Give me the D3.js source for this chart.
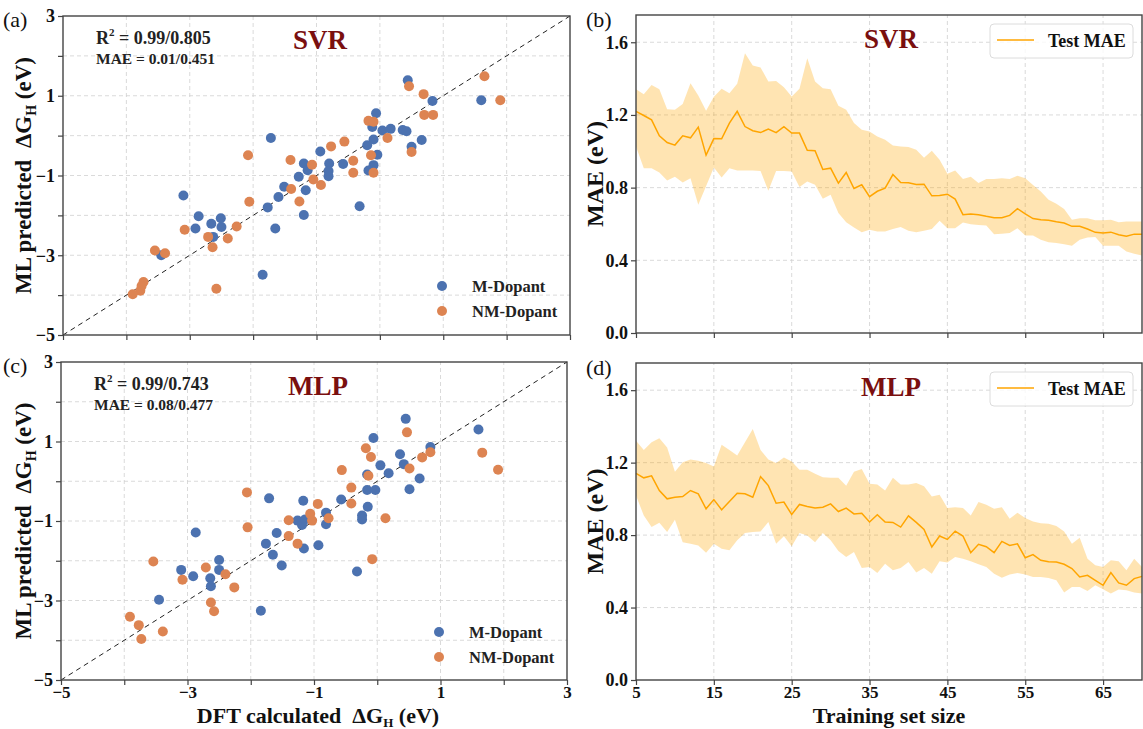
<!DOCTYPE html>
<html>
<head>
<meta charset="utf-8">
<script src="https://cdn.jsdelivr.net/npm/d3@7"></script>
<style>
  body { margin: 0; background: #fff; }
  svg { font-family: "Liberation Serif", "DejaVu Serif", serif; }
  text { white-space: pre; }
</style>
</head>
<body>
<svg id="chart" width="1143" height="729"></svg>
<script>
// parity data, [DFT, predicted]
const svrMetal = [
  [0.44, 1.39], [0.83, 0.87], [1.6, 0.885], [-0.06, 0.56], [-0.12, 0.215], [-0.1, -0.095],
  [-0.2, -0.24], [0.04, 0.13], [0.17, 0.17], [0.36, 0.14], [0.42, 0.11], [0.5, -0.28],
  [0.66, -0.11], [-0.04, -0.48], [-0.1, -0.74], [-0.18, -0.875], [-1.72, -0.06], [-0.94, -0.4],
  [-1.2, -0.7], [-1.14, -0.87], [-1.28, -1.03], [-0.8, -0.7], [-0.81, -0.89], [-0.81, -1.02],
  [-0.58, -0.71], [-1.51, -1.28], [-1.17, -1.37], [-1.6, -1.54], [-1.77, -1.8], [-1.2, -1.99],
  [-1.65, -2.33], [-0.32, -1.77], [-1.85, -3.49], [-3.1, -1.5], [-2.86, -2.02], [-2.91, -2.33],
  [-2.66, -2.21], [-2.51, -2.07], [-2.5, -2.29], [-2.63, -2.54], [-3.45, -3.0]
];
const svrNonMetal = [
  [1.65, 1.49], [1.9, 0.885], [0.46, 1.24], [0.69, 1.04], [0.7, 0.52], [0.84, 0.52],
  [-0.18, 0.37], [-0.1, 0.35], [0.12, -0.06], [-0.56, -0.15], [-0.77, -0.27], [-0.14, -0.49],
  [0.5, -0.41], [-0.42, -0.63], [-0.42, -0.93], [-0.1, -0.93], [-1.41, -0.61], [-1.07, -0.73],
  [-1.05, -1.1], [-0.93, -1.24], [-1.4, -1.34], [-1.27, -1.65], [-2.08, -0.49], [-2.06, -1.66],
  [-2.26, -2.28], [-2.4, -2.58], [-2.71, -2.54], [-2.64, -2.8], [-3.08, -2.36], [-3.55, -2.88],
  [-3.39, -2.95], [-3.73, -3.67], [-3.78, -3.89], [-3.9, -3.98], [-3.76, -3.77], [-2.58, -3.84]
];
const mlpMetal = [
  [0.45, 1.57], [1.6, 1.3], [-0.06, 1.09], [0.84, 0.86], [0.36, 0.68], [0.42, 0.43],
  [0.05, 0.4], [0.18, 0.2], [-0.16, 0.17], [0.67, 0.07], [-0.16, -0.22], [-0.03, -0.22],
  [0.51, -0.2], [-0.57, -0.46], [-0.15, -0.64], [-0.24, -0.86], [-0.24, -0.96], [-1.71, -0.43],
  [-1.17, -0.49], [-0.81, -0.79], [-0.81, -1.08], [-1.26, -0.99], [-1.19, -1.1], [-1.59, -1.3],
  [-1.76, -1.57], [-1.65, -1.85], [-1.51, -2.12], [-1.16, -1.69], [-0.93, -1.61], [-0.32, -2.27],
  [-1.84, -3.26], [-2.87, -1.29], [-3.1, -2.23], [-2.91, -2.39], [-2.5, -1.98], [-2.5, -2.23],
  [-2.64, -2.44], [-2.63, -2.64], [-3.45, -2.98], [-1.14, -0.96]
];
const mlpNonMetal = [
  [0.47, 1.23], [1.66, 0.72], [1.91, 0.29], [-0.18, 0.83], [-0.1, 0.61], [0.71, 0.6],
  [0.84, 0.73], [0.51, 0.32], [-0.14, 0.14], [-0.56, 0.28], [-0.41, -0.16], [-0.41, -0.56],
  [0.13, -0.93], [-0.08, -1.96], [-2.06, -0.28], [-2.05, -1.16], [-1.4, -0.98], [-1.4, -1.38],
  [-1.26, -1.57], [-1.06, -0.82], [-1.03, -0.99], [-0.94, -0.57], [-0.77, -0.93], [-2.71, -2.17],
  [-2.4, -2.34], [-2.26, -2.67], [-3.08, -2.48], [-3.54, -2.02], [-2.63, -3.05], [-2.58, -3.27],
  [-3.39, -3.78], [-3.91, -3.41], [-3.77, -3.62], [-3.73, -3.97]
];

// learning curves, training set size 5..70
const trainSizes = d3.range(5, 71);
const svrMean = [1.22, 1.197, 1.173, 1.085, 1.048, 1.034, 1.085, 1.074, 1.133, 0.979,
  1.07, 1.069, 1.155, 1.22, 1.136, 1.113, 1.103, 1.122, 1.103, 1.135,
  1.1, 1.1, 1.006, 1.003, 0.9, 0.907, 0.825, 0.883, 0.795, 0.816,
  0.75, 0.78, 0.797, 0.872, 0.828, 0.827, 0.817, 0.819, 0.755, 0.757,
  0.764, 0.737, 0.651, 0.655, 0.651, 0.642, 0.634, 0.634, 0.647, 0.684,
  0.656, 0.63, 0.623, 0.62, 0.612, 0.605, 0.587, 0.587, 0.572, 0.554,
  0.55, 0.555, 0.541, 0.532, 0.544, 0.543];
const svrUpper = [1.342, 1.314, 1.365, 1.342, 1.232, 1.229, 1.26, 1.374, 1.307, 1.223,
  1.3, 1.344, 1.32, 1.371, 1.54, 1.472, 1.461, 1.384, 1.387, 1.353,
  1.301, 1.344, 1.512, 1.384, 1.347, 1.342, 1.25, 1.229, 1.155, 1.118,
  1.109, 1.081, 1.063, 1.032, 1.026, 1.023, 1.008, 0.964, 1.003, 0.953,
  0.876, 0.894, 0.848, 0.86, 0.825, 0.847, 0.848, 0.852, 0.847, 0.865,
  0.852, 0.815, 0.779, 0.733, 0.711, 0.682, 0.623, 0.632, 0.632, 0.62,
  0.62, 0.623, 0.61, 0.614, 0.614, 0.614];
const svrLower = [1.026, 0.907, 0.907, 0.883, 0.839, 0.86, 0.828, 0.852, 0.706, 0.807,
  0.911, 0.856, 0.907, 0.894, 0.894, 0.894, 0.891, 0.783, 0.892, 0.892,
  0.889, 0.803, 0.834, 0.816, 0.739, 0.761, 0.66, 0.61, 0.581, 0.555,
  0.568, 0.559, 0.559, 0.572, 0.583, 0.563, 0.555, 0.563, 0.572, 0.618,
  0.577, 0.577, 0.608, 0.599, 0.594, 0.592, 0.544, 0.546, 0.55, 0.577,
  0.537, 0.537, 0.513, 0.5, 0.495, 0.489, 0.48, 0.513, 0.526, 0.528,
  0.48, 0.48, 0.48, 0.449, 0.436, 0.427];
const mlpMean = [1.141, 1.116, 1.127, 1.046, 1.0, 1.009, 1.013, 1.046, 1.028, 0.945,
  0.996, 0.94, 0.985, 1.031, 1.028, 1.009, 1.123, 1.073, 0.976, 0.982,
  0.914, 0.969, 0.958, 0.95, 0.954, 0.972, 0.93, 0.949, 0.917, 0.921,
  0.872, 0.912, 0.872, 0.87, 0.844, 0.906, 0.87, 0.831, 0.734, 0.795,
  0.776, 0.822, 0.795, 0.703, 0.749, 0.736, 0.703, 0.765, 0.743, 0.752,
  0.675, 0.692, 0.661, 0.653, 0.651, 0.639, 0.615, 0.569, 0.578, 0.55,
  0.523, 0.593, 0.536, 0.523, 0.56, 0.572];
const mlpUpper = [1.321, 1.27, 1.312, 1.334, 1.284, 1.15, 1.202, 1.217, 1.211, 1.198,
  1.178, 1.299, 1.27, 1.239, 1.312, 1.385, 1.27, 1.217, 1.198, 1.229,
  1.206, 1.16, 1.161, 1.138, 1.119, 1.116, 1.116, 1.073, 1.15, 1.165,
  1.083, 1.079, 1.046, 1.116, 1.079, 1.079, 1.087, 1.07, 1.013, 1.022,
  0.949, 0.954, 0.95, 0.908, 0.982, 0.967, 0.945, 0.954, 0.89, 0.923,
  0.895, 0.875, 0.866, 0.862, 0.85, 0.82, 0.752, 0.785, 0.67, 0.633,
  0.624, 0.661, 0.655, 0.606, 0.67, 0.624];
const mlpLower = [1.018, 0.908, 0.844, 0.868, 0.817, 0.884, 0.761, 0.752, 0.743, 0.703,
  0.752, 0.725, 0.716, 0.771, 0.811, 0.817, 0.82, 0.872, 0.752, 0.793,
  0.738, 0.811, 0.798, 0.761, 0.811, 0.771, 0.712, 0.679, 0.706, 0.618,
  0.624, 0.591, 0.642, 0.606, 0.618, 0.651, 0.593, 0.618, 0.587, 0.655,
  0.648, 0.679, 0.67, 0.655, 0.639, 0.624, 0.587, 0.565, 0.582, 0.591,
  0.583, 0.569, 0.569, 0.563, 0.55, 0.483, 0.514, 0.514, 0.492, 0.523,
  0.501, 0.477, 0.499, 0.495, 0.483, 0.477];

const parityTicks = d3.range(-5, 4);
const maeTicks = [0, 0.4, 0.8, 1.2, 1.6];
const sizeTicks = [5, 15, 25, 35, 45, 55, 65];

const blue = '#4c72b0', orange = '#dd8452', lineColor = '#ffa500', titleRed = '#7a0f0f';
const minus = v => String(v).replace('-', '\u2212');

const svg = d3.select('#chart');

function grid(g, x, y, xs, ys) {
  const gg = g.append('g').attr('stroke', '#d0d0d0').attr('stroke-width', 0.8).attr('stroke-dasharray', '4,3');
  xs.forEach(v => gg.append('line').attr('x1', x(v)).attr('x2', x(v)).attr('y1', y.range()[0]).attr('y2', y.range()[1]));
  ys.forEach(v => gg.append('line').attr('y1', y(v)).attr('y2', y(v)).attr('x1', x.range()[0]).attr('x2', x.range()[1]));
}

function styleAxis(a, size) {
  a.select('.domain').remove();
  a.selectAll('line').attr('stroke', '#444').attr('stroke-width', 1.2);
  a.selectAll('text').attr('font-family', 'Liberation Serif').attr('font-weight', 'bold')
    .attr('font-size', size || 18).attr('fill', '#111');
}

function frame(g, x, y) {
  g.append('rect').attr('x', x.range()[0]).attr('y', y.range()[1])
    .attr('width', x.range()[1] - x.range()[0]).attr('height', y.range()[0] - y.range()[1])
    .attr('fill', 'none').attr('stroke', '#444').attr('stroke-width', 1.4);
}

function parityPanel(o) {
  const g = svg.append('g');
  const x = d3.scaleLinear().domain([-5, 3]).range([o.left, o.right]);
  const y = d3.scaleLinear().domain([-5, 3]).range([o.bottom, o.top]);
  grid(g, x, y, d3.range(-4, 3), d3.range(-4, 3));

  g.append('line').attr('x1', x(-5)).attr('y1', y(-5)).attr('x2', x(3)).attr('y2', y(3))
    .attr('stroke', '#222').attr('stroke-width', 1).attr('stroke-dasharray', '5,4');

  g.selectAll('.m').data(o.metal).join('circle')
    .attr('cx', d => x(d[0])).attr('cy', d => y(d[1])).attr('r', 5).attr('fill', blue);
  g.selectAll('.n').data(o.nonMetal).join('circle')
    .attr('cx', d => x(d[0])).attr('cy', d => y(d[1])).attr('r', 5).attr('fill', orange);

  const ya = g.append('g').attr('transform', `translate(${o.left},0)`)
    .call(d3.axisLeft(y).tickValues(parityTicks).tickSize(5).tickPadding(3)
      .tickFormat(d => Math.abs(d) % 2 === 1 ? minus(d) : ''));
  styleAxis(ya);
  const xa = g.append('g').attr('transform', `translate(0,${o.bottom})`)
    .call(d3.axisBottom(x).tickValues(parityTicks).tickSize(5).tickPadding(1)
      .tickFormat(d => o.xLabels && Math.abs(d) % 2 === 1 ? minus(d) : ''));
  styleAxis(xa, 17);
  frame(g, x, y);

  // metrics text
  const r2 = g.append('text').attr('x', o.left + 33).attr('y', o.top + 28)
    .attr('font-weight', 'bold').attr('font-size', 18).attr('fill', '#222');
  r2.append('tspan').text('R');
  r2.append('tspan').attr('dy', -8).attr('font-size', 11).text('2');
  r2.append('tspan').attr('dy', 8).text(' = ' + o.r2);
  g.append('text').attr('x', o.left + 33).attr('y', o.top + 48)
    .attr('font-weight', 'bold').attr('font-size', 15.5).attr('fill', '#222').text('MAE = ' + o.mae);
  g.append('text').attr('x', o.left + 257).attr('y', o.top + 33).attr('text-anchor', 'middle')
    .attr('font-weight', 'bold').attr('font-size', 27).attr('fill', titleRed).text(o.model);

  // legend
  [['M-Dopant', blue, 0], ['NM-Dopant', orange, 25]].forEach(([t, c, dy]) => {
    g.append('circle').attr('cx', o.right - 128).attr('cy', o.legendY + dy).attr('r', 5).attr('fill', c);
    g.append('text').attr('x', o.right - 98).attr('y', o.legendY + dy + 6)
      .attr('font-weight', 'bold').attr('font-size', 16.5).attr('fill', '#222').text(t);
  });

  // y title
  const yt = g.append('text').attr('transform', `translate(31,${(o.top + o.bottom) / 2}) rotate(-90)`)
    .attr('text-anchor', 'middle').attr('font-weight', 'bold').attr('font-size', 23).attr('fill', '#111');
  yt.append('tspan').text('ML predicted  \u0394G');
  yt.append('tspan').attr('dy', 5).attr('font-size', 14).text('H');
  yt.append('tspan').attr('dy', -5).text(' (eV)');

  svg.append('text').attr('x', 3).attr('y', o.top + 11).attr('font-size', 22).attr('fill', '#111').text(o.tag);
  return { g, x, y };
}

function maePanel(o) {
  const g = svg.append('g');
  const x = d3.scaleLinear().domain([5, 70]).range([o.left, o.right]);
  const y = d3.scaleLinear().domain([0, 1.75]).range([o.bottom, o.top]);
  grid(g, x, y, sizeTicks.slice(1), maeTicks.slice(1));

  const area = d3.area().x((d, i) => x(trainSizes[i])).y0(d => y(d[0])).y1(d => y(d[1]));
  g.append('path').datum(o.lower.map((v, i) => [v, o.upper[i]]))
    .attr('d', area).attr('fill', lineColor).attr('fill-opacity', 0.3);
  const line = d3.line().x((d, i) => x(trainSizes[i])).y(d => y(d));
  g.append('path').datum(o.mean).attr('d', line)
    .attr('fill', 'none').attr('stroke', lineColor).attr('stroke-width', 1.5);

  const ya = g.append('g').attr('transform', `translate(${o.left},0)`)
    .call(d3.axisLeft(y).tickValues(maeTicks).tickSize(5).tickPadding(3).tickFormat(d3.format('.1f')));
  styleAxis(ya);
  const xa = g.append('g').attr('transform', `translate(0,${o.bottom})`)
    .call(d3.axisBottom(x).tickValues(sizeTicks).tickSize(5).tickPadding(1)
      .tickFormat(d => o.xLabels ? d : ''));
  styleAxis(xa, 17);
  frame(g, x, y);

  g.append('text').attr('x', 891).attr('y', o.top + 33).attr('text-anchor', 'middle')
    .attr('font-weight', 'bold').attr('font-size', 27).attr('fill', titleRed).text(o.model);

  // legend
  g.append('rect').attr('x', 990).attr('y', o.top + 9).attr('width', 143).attr('height', 34).attr('rx', 4)
    .attr('fill', '#fff').attr('fill-opacity', 0.8).attr('stroke', '#dcdcdc');
  g.append('line').attr('x1', 997).attr('x2', 1034).attr('y1', o.top + 25).attr('y2', o.top + 25)
    .attr('stroke', lineColor).attr('stroke-width', 1.5);
  g.append('text').attr('x', 1048).attr('y', o.top + 32).attr('font-weight', 'bold')
    .attr('font-size', 18).attr('fill', '#111').text('Test MAE');

  g.append('text').attr('transform', `translate(603,${(o.top + o.bottom) / 2}) rotate(-90)`)
    .attr('text-anchor', 'middle').attr('font-weight', 'bold').attr('font-size', 24).attr('fill', '#111')
    .text('MAE (eV)');

  svg.append('text').attr('x', 586).attr('y', o.top + 12).attr('font-size', 22).attr('fill', '#111').text(o.tag);
}

parityPanel({ left: 63, right: 570, top: 16, bottom: 335, metal: svrMetal, nonMetal: svrNonMetal,
  r2: '0.99/0.805', mae: '0.01/0.451', model: 'SVR', legendY: 286, tag: '(a)', xLabels: false });
parityPanel({ left: 61, right: 567, top: 362, bottom: 680, metal: mlpMetal, nonMetal: mlpNonMetal,
  r2: '0.99/0.743', mae: '0.08/0.477', model: 'MLP', legendY: 632, tag: '(c)', xLabels: true });

maePanel({ left: 636, right: 1142, top: 15, bottom: 333, mean: svrMean, upper: svrUpper, lower: svrLower,
  model: 'SVR', tag: '(b)', xLabels: false });
maePanel({ left: 636, right: 1142, top: 363, bottom: 680, mean: mlpMean, upper: mlpUpper, lower: mlpLower,
  model: 'MLP', tag: '(d)', xLabels: true });

// x titles
const xt = svg.append('text').attr('x', 318).attr('y', 723).attr('text-anchor', 'middle')
  .attr('font-weight', 'bold').attr('font-size', 22).attr('fill', '#111');
xt.append('tspan').text('DFT calculated  \u0394G');
xt.append('tspan').attr('dy', 4).attr('font-size', 13).text('H');
xt.append('tspan').attr('dy', -4).text(' (eV)');
svg.append('text').attr('x', 889).attr('y', 723).attr('text-anchor', 'middle')
  .attr('font-weight', 'bold').attr('font-size', 22).attr('fill', '#111').text('Training set size');
</script>
</body>
</html>
